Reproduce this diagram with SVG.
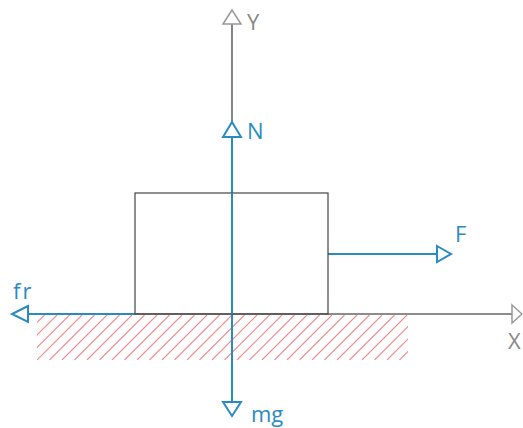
<svg xmlns="http://www.w3.org/2000/svg" width="523" height="428" viewBox="0 0 523 428">
<style>
.ax{stroke:#666;stroke-width:1.5;fill:none}
.axh{stroke:#999;stroke-width:1.5;fill:#fff}
.bl{stroke:#2a8bc2;stroke-width:2;fill:none}
.blh{stroke:#2a8bc2;stroke-width:2;fill:#fff}
.lbl{font-family:"Open Sans","Noto Sans",sans-serif;font-size:22px}
.h{stroke:#f3898c;stroke-width:1.1}
</style>
<defs>
<clipPath id="hc"><rect x="37" y="315" width="371" height="45"/></clipPath>
</defs>
<g id="hatch" clip-path="url(#hc)">
<path class="h" d="M37,360L82,315M49.5,360L94.5,315M62,360L107,315M74.5,360L119.5,315M87,360L132,315M99.5,360L144.5,315M112,360L157,315M124.5,360L169.5,315M137,360L182,315M149.5,360L194.5,315M162,360L207,315M174.5,360L219.5,315M187,360L232,315M199.5,360L244.5,315M212,360L257,315M224.5,360L269.5,315M237,360L282,315M249.5,360L294.5,315M262,360L307,315M274.5,360L319.5,315M287,360L332,315M299.5,360L344.5,315M312,360L357,315M324.5,360L369.5,315M337,360L382,315M349.5,360L394.5,315M362,360L407,315M374.5,360L419.5,315M387,360L432,315M399.5,360L444.5,315M24.5,360L69.5,315M12,360L57,315M-0.5,360L44.5,315"/>
</g>
<g id="connectors">
<g id="x-axis">
<line class="ax" x1="135" y1="314" x2="512" y2="314"/>
<polygon class="axh" points="512,305 522,314 512,323"/>
<text x="508" y="349" class="lbl" fill="#888">X</text>
</g>
<g id="y-axis">
<line x1="232" y1="24" x2="232" y2="122" stroke="#333" stroke-width="1.2"/>
<polygon class="axh" points="223,24 232,10 241,24"/>
<text x="247" y="30" class="lbl" fill="#888">Y</text>
</g>
<g id="N-mg">
<line class="bl" x1="232" y1="137" x2="232" y2="402"/>
<polygon class="blh" points="223,137 232,122 241,137"/>
<polygon class="blh" points="223,402 232,416 241,402"/>
</g>
<g id="F-arrow">
<line class="bl" x1="328" y1="254" x2="437" y2="254"/>
<polygon class="blh" points="437,246 451,254 437,262"/>
</g>
<g id="fr-arrow">
<line class="bl" x1="135" y1="314" x2="28" y2="314"/>
<polygon class="blh" points="28,306 12,314 28,322"/>
</g>
</g>
<g id="block">
<rect x="135" y="193" width="193" height="121" fill="none" stroke="#444" stroke-width="1.2"/>
</g>
<line class="bl" x1="232" y1="193" x2="232" y2="314"/>
<g id="labels">
<text x="247" y="139" class="lbl" fill="#2a8bc2">N</text>
<text x="455" y="242" class="lbl" fill="#2a8bc2">F</text>
<text x="13" y="299" class="lbl" fill="#2a8bc2" letter-spacing="2">fr</text>
<text x="251" y="422" class="lbl" fill="#2a8bc2">mg</text>
</g>
</svg>
